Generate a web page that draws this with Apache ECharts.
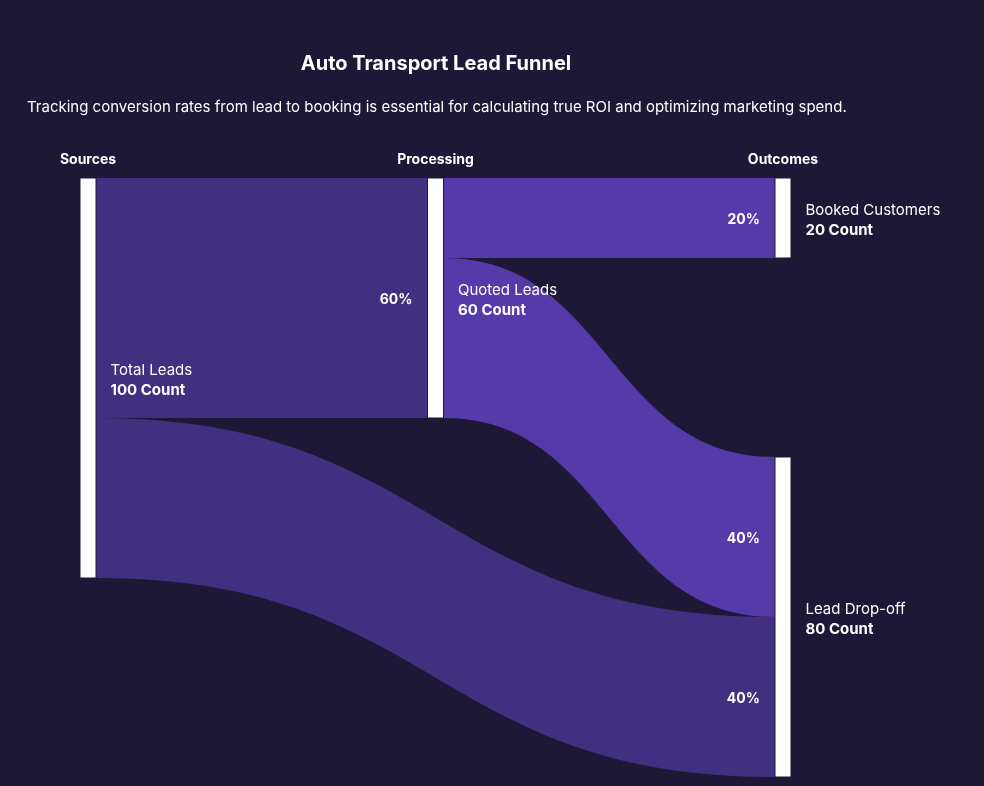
<!DOCTYPE html>
<html>
<head>
<meta charset="utf-8">
<title>Auto Transport Lead Funnel</title>
<script src="https://cdn.jsdelivr.net/npm/echarts@6/dist/echarts.min.js"></script>
<style>
html, body { margin: 0; padding: 0; background: #1c1836; }
#chart { width: 984px; height: 786px; }
</style>
</head>
<body>
<div id="chart"></div>
<script>
// data
var nodeNames = ['Total Leads', 'Quoted Leads', 'Booked Customers', 'Lead Drop-off'];
var nodeCounts = [100, 60, 20, 80];
var linkSources = ['Total Leads', 'Quoted Leads', 'Quoted Leads', 'Total Leads'];
var linkTargets = ['Quoted Leads', 'Booked Customers', 'Lead Drop-off', 'Lead Drop-off'];
var linkValues = [60, 20, 40, 40];
var columnTitles = ['Sources', 'Processing', 'Outcomes'];
var totalLeads = 100;

var bg = '#1c1836';
var darkFlow = '#40307f';
var lightFlow = '#553aa9';
var fontFam = 'Inter, "Noto Sans", sans-serif';

var nodes = nodeNames.map(function (n, i) {
    return { name: n, value: nodeCounts[i] };
});
var links = linkSources.map(function (s, i) {
    return {
        source: s,
        target: linkTargets[i],
        value: linkValues[i],
        lineStyle: { color: s === 'Total Leads' ? darkFlow : lightFlow }
    };
});

var chart = echarts.init(document.getElementById('chart'));
var option = {
    backgroundColor: bg,
    animation: false,
    title: [{
        text: 'Auto Transport Lead Funnel',
        left: 431,
        textAlign: 'center',
        top: 49,
        textStyle: { color: '#ffffff', fontSize: 20, fontWeight: 'bold', fontFamily: fontFam }
    }, {
        text: 'Tracking conversion rates from lead to booking is essential for calculating true ROI and optimizing marketing spend.',
        left: 22,
        top: 95,
        textStyle: { color: '#ffffff', fontSize: 15, fontWeight: 'normal', fontFamily: fontFam }
    }],
    series: [{
        type: 'sankey',
        left: 80,
        right: 193,
        top: 178,
        bottom: 9,
        nodeWidth: 16,
        nodeGap: 199,
        layoutIterations: 0,
        draggable: false,
        emphasis: { disabled: true },
        data: nodes,
        links: links,
        itemStyle: { color: '#ffffff', borderColor: bg, borderWidth: 1 },
        lineStyle: { curveness: 0.5, opacity: 1 },
        label: {
            position: 'right',
            distance: 14,
            offset: [0, 2],
            formatter: function (p) {
                return '{n|' + p.name + '}\n{c|' + p.value + ' Count}';
            },
            rich: {
                n: { color: '#ffffff', fontSize: 15, lineHeight: 20, fontFamily: fontFam },
                c: { color: '#ffffff', fontSize: 15, lineHeight: 20, fontWeight: 'bold', fontFamily: fontFam }
            }
        }
    }]
};
chart.setOption(option);

// column headers and link percentages from the computed sankey layout
var seriesModel = chart.getModel().getSeriesByIndex(0);
var graph = seriesModel.getGraph();
var box = seriesModel.layoutInfo;
var graphics = [];

var colX = {};
graph.nodes.forEach(function (node) {
    var l = node.getLayout();
    colX[Math.round(l.x)] = box.x + l.x + l.dx / 2;
});
Object.keys(colX).map(Number).sort(function (a, b) { return a - b; }).forEach(function (k, i) {
    graphics.push({
        type: 'text',
        z: 100,
        x: colX[k],
        y: 160,
        style: {
            text: columnTitles[i], fill: '#ffffff', font: 'bold 14px ' + fontFam,
            align: 'center', verticalAlign: 'middle'
        }
    });
});

graph.edges.forEach(function (edge) {
    var el = edge.getLayout();
    var tl = edge.node2.getLayout();
    graphics.push({
        type: 'text',
        z: 100,
        x: box.x + tl.x - 15,
        y: box.y + tl.y + el.ty + el.dy / 2 + 2,
        style: {
            text: Math.round(edge.getValue() / totalLeads * 100) + '%',
            fill: '#ffffff', font: 'bold 14px ' + fontFam,
            align: 'right', verticalAlign: 'middle'
        }
    });
});

chart.setOption({ graphic: graphics });
</script>
</body>
</html>
